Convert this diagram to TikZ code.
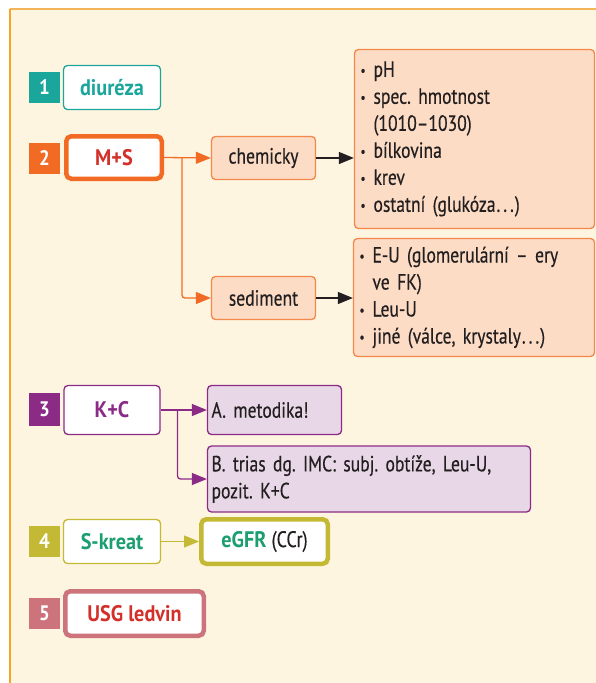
\documentclass[tikz,border=0pt]{standalone}
\usepackage{fontspec}
\setmainfont{PT Sans}[FakeStretch=0.8, FakeBold=0.4, BoldFeatures={FakeStretch=0.9, FakeBold=0}]
\usetikzlibrary{arrows.meta}

\definecolor{cream}{HTML}{FEF5E1}
\definecolor{frametop}{HTML}{F6B459}
\definecolor{frameleft}{HTML}{F9A524}
\definecolor{tealc}{HTML}{1AA69B}
\definecolor{orangec}{HTML}{F26B24}
\definecolor{redtext}{HTML}{D3302A}
\definecolor{peach}{HTML}{FCDCC5}
\definecolor{peachline}{HTML}{F4874A}
\definecolor{purplec}{HTML}{8C2B86}
\definecolor{lavender}{HTML}{E8D8E7}
\definecolor{olivec}{HTML}{C4B934}
\definecolor{greentext}{HTML}{1B9E70}
\definecolor{rosec}{HTML}{CC737B}
\definecolor{darktext}{HTML}{231F20}

\newcommand{\bul}{\makebox[13pt][l]{\raisebox{1.5pt}{\fontsize{14}{14}\selectfont •}}}
\newcommand{\indt}{\hspace*{13pt}}
\newcommand{\sdots}{\kern1pt.\kern3pt.\kern3pt.\kern1pt}
\newcommand{\tightspaces}{\frenchspacing\spaceskip=4pt plus 1pt minus 1pt\relax}

\begin{document}
\frenchspacing
\begin{tikzpicture}[x=1pt,y=-1pt,
  numsq/.style={minimum width=31pt, minimum height=31pt, inner sep=0pt,
    text=white, font=\fontsize{21}{21}\selectfont\bfseries},
  labelbox/.style={draw, fill=white, rounded corners=4pt, line width=1.3pt,
    inner sep=0pt, font=\fontsize{22.5}{25}\selectfont\bfseries},
  heavybox/.style={labelbox, line width=4.5pt, rounded corners=5pt},
  subbox/.style={draw=#1, rounded corners=4pt, line width=1.3pt, inner sep=0pt,
    text=darktext, font=\fontsize{22}{27}\selectfont\tightspaces},
  listbox/.style={subbox=#1, inner xsep=6pt, align=left},
  conn/.style={draw=#1, line width=1.3pt, rounded corners=3pt,
    -{Triangle[length=15pt,width=12pt]}}
]
\useasboundingbox (0,0) rectangle (596,683);

% panel
\fill[cream] (10,9) rectangle (596,683);
\draw[frametop, line width=1.3pt] (10,9) -- (596,9);
\draw[frameleft, line width=1.3pt] (10,9) -- (10,683);

% 1 diureza
\node[numsq, fill=tealc] (n1) at (44.5,87.5) {1};
\node[labelbox, draw=tealc, text=tealc, minimum width=97pt, minimum height=44pt] (diur) at (112,87.5) {diuréza};

% 2 M+S
\node[numsq, fill=orangec] (n2) at (44.5,158) {2};
\node[heavybox, draw=orangec, text=redtext, minimum width=95.5pt, minimum height=42.5pt] (ms) at (114,157.5) {M+S};
\node[subbox=peachline, fill=peach, minimum width=104pt, minimum height=43pt] (chem) at (263.5,158) {chemicky};
\node[subbox=peachline, fill=peach, minimum width=104pt, minimum height=43pt] (sed) at (263.5,298) {sediment};
\node[listbox=peachline, fill=peach, text width=228pt, minimum height=179pt] (chemlist) at (474.5,139)
  {\bul pH\\
   \bul spec. hmotnost\\
   \indt(1010–1030)\\
   \bul bílkovina\\
   \bul krev\\
   \bul ostatní (glukóza\sdots)};
\node[listbox=peachline, fill=peach, text width=229pt, minimum height=118pt] (sedlist) at (474,297.5)
  {\bul E-U (glomerulární – ery\\
   \indt ve FK)\\
   \bul Leu-U\\
   \bul jiné (válce, krystaly\sdots)};

\coordinate (msfork) at (182,158);
\draw[conn=orangec] (ms.east) -- (chem.west);
\draw[conn=orangec] (msfork) |- (sed.west);
\draw[conn=darktext] (chem.east) -- (chem.east -| chemlist.west);
\draw[conn=darktext] (sed.east) -- (sed.east -| sedlist.west);

% 3 K+C
\node[numsq, fill=purplec, minimum height=33pt] (n3) at (44.5,409.5) {3};
\node[labelbox, draw=purplec, text=purplec, minimum width=96pt, minimum height=49pt] (kc) at (112,410) {K+C};
\node[subbox=purplec, fill=lavender, inner xsep=4pt, text width=126pt, align=left, minimum height=49pt] (meth) at (274.5,410) {A. metodika!};
\node[subbox=purplec, fill=lavender, inner xsep=4pt, text width=315pt, align=left, minimum height=66pt] (trias) at (369,479)
  {B. trias dg. IMC: subj. obtíže, Leu-U,\\ pozit. K+C};
\coordinate (kcfork) at (177.5,410);
\draw[conn=purplec] (kc.east) -- (meth.west);
\draw[conn=purplec] (kcfork) |- (trias.west);

% 4 S-kreat
\node[numsq, fill=olivec] (n4) at (44.5,541.5) {4};
\node[labelbox, draw=olivec, text=greentext, minimum width=97pt, minimum height=44pt] (skreat) at (112,541.5) {S-kreat};
\node[heavybox, draw=olivec, text=greentext, minimum width=126.5pt, minimum height=44.5pt] (egfr) at (264.5,541.5)
  {eGFR \textcolor{darktext}{\mdseries(CCr)}};
\draw[conn=olivec] (skreat.east) -- (egfr.west);

% 5 USG
\node[numsq, fill=rosec] (n5) at (44.5,613) {5};
\node[heavybox, draw=rosec, text=redtext, minimum width=138.5pt, minimum height=44.5pt] (usg) at (134.5,613.5) {USG ledvin};
\end{tikzpicture}
\end{document}
